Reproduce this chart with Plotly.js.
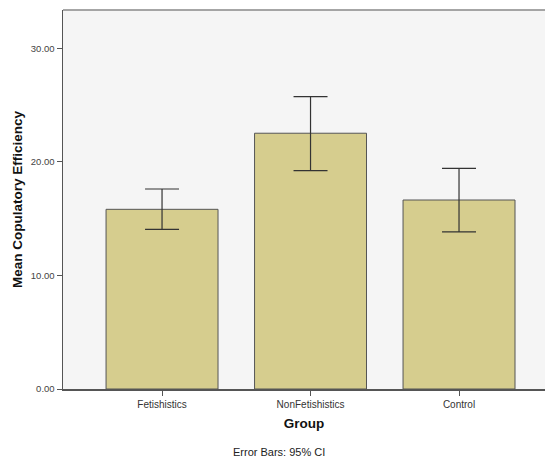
<!DOCTYPE html>
<html>
<head>
<meta charset="utf-8">
<script src="https://cdn.plot.ly/plotly-3.0.1.min.js"></script>
<style>html,body{margin:0;padding:0;background:#fff;}#chart{width:545px;height:459px;}</style>
</head>
<body>
<div id="chart"></div>
<script>
const groups = ["Fetishistics", "NonFetishistics", "Control"];
const means = [15.82, 22.52, 16.64];
const ciUpper = [17.61, 25.74, 19.43];
const ciLower = [14.06, 19.22, 13.83];
const yTicks = [0, 10, 20, 30];

const trace = {
  type: "bar",
  x: groups,
  y: means,
  width: 0.754,
  marker: { color: "#d6cd8e", line: { color: "#555555", width: 1 } },
  error_y: {
    type: "data",
    symmetric: false,
    array: means.map((m, i) => ciUpper[i] - m),
    arrayminus: means.map((m, i) => m - ciLower[i]),
    color: "#333333",
    thickness: 1.2,
    width: 17
  },
  hoverinfo: "none"
};

const layout = {
  width: 545,
  height: 459,
  margin: { l: 63, r: 0, t: 10, b: 70 },
  paper_bgcolor: "#ffffff",
  plot_bgcolor: "#f5f5f5",
  showlegend: false,
  font: { family: "Liberation Sans, Arial, sans-serif", color: "#333333" },
  xaxis: {
    type: "category",
    range: [-0.667, 2.579],
    showline: true,
    linecolor: "#555555",
    linewidth: 1.5,
    ticks: "outside",
    ticklen: 5,
    tickcolor: "#555555",
    tickfont: { size: 10, color: "#333333" },
    showgrid: false,
    zeroline: false,
    title: { text: "<b>Group</b>", font: { size: 13.5, color: "#111111" }, standoff: 10 }
  },
  yaxis: {
    range: [0, 33.37],
    tickvals: yTicks,
    tickformat: ".2f",
    showline: true,
    linecolor: "#555555",
    linewidth: 1.5,
    ticks: "outside",
    ticklen: 5,
    tickcolor: "#555555",
    tickfont: { size: 9.5, color: "#444444" },
    showgrid: false,
    zeroline: false,
    title: { text: "<b>Mean Copulatory Efficiency</b>", font: { size: 13.5, color: "#111111" }, standoff: 5 }
  },
  shapes: [
    { type: "line", xref: "paper", yref: "paper", x0: 0, x1: 1, y0: 1, y1: 1, line: { color: "#888888", width: 1.5 } }
  ],
  annotations: [
    { text: "Error Bars: 95% CI", xref: "paper", yref: "paper", x: 0.449, y: -0.165, yanchor: "middle", xanchor: "center", showarrow: false, font: { size: 11, color: "#222222" } }
  ]
};

Plotly.newPlot("chart", [trace], layout, { displayModeBar: false, staticPlot: true });
</script>
</body>
</html>
